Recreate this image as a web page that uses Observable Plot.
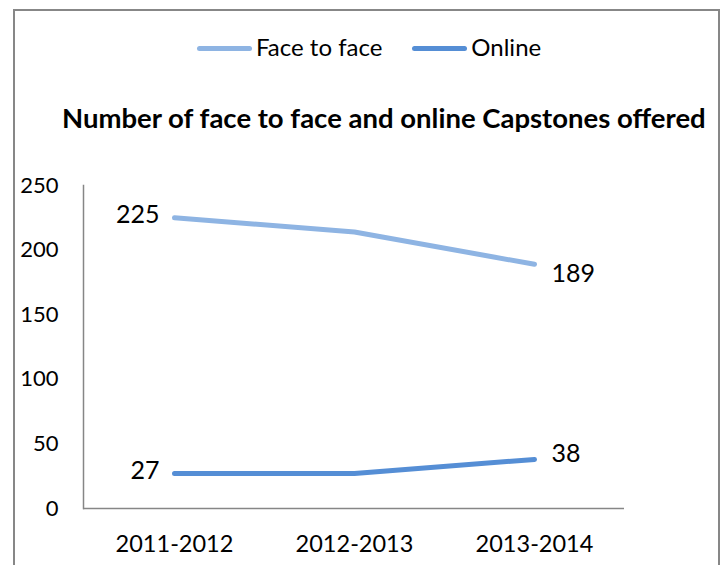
<!DOCTYPE html>
<html><head><meta charset="utf-8">
<script src="https://cdn.jsdelivr.net/npm/d3@7"></script>
<script src="https://cdn.jsdelivr.net/npm/@observablehq/plot@0.6"></script>
<style>
body{margin:0;background:#fff;font-family:Lato, sans-serif;color:#000;}
#wrap{position:relative;width:722px;height:565px;overflow:hidden;background:#fff;}
#border{position:absolute;left:13px;top:9px;width:703px;height:620px;border:2px solid #878787;}
#legend{position:absolute;top:32px;left:197px;display:flex;align-items:center;font-size:24px;white-space:nowrap;}
.sw{display:inline-block;width:55px;height:5px;border-radius:3px;margin-right:4px;position:relative;top:2px;}
.item{display:flex;align-items:center;margin-right:30px;}
#title{position:absolute;top:101px;left:62px;font-weight:bold;font-size:27.5px;white-space:nowrap;}
#chart{position:absolute;top:170px;left:0;}
</style></head>
<body>
<div id="wrap">
<div id="border"></div>
<div id="legend"></div>
<div id="title">Number of face to face and online Capstones offered</div>
<div id="chart"></div>
</div>
<script>
const years = ["2011-2012", "2012-2013", "2013-2014"];
const faceToFace = [225, 214, 189];
const online = [27, 27, 38];
const yTicks = [0, 50, 100, 150, 200, 250];
const seriesNames = ["Face to face", "Online"];
const seriesColors = ["#8EB4E3", "#558ED5"];

const rows = [];
years.forEach((y, i) => rows.push({year: y, value: faceToFace[i], series: seriesNames[0], idx: i}));
years.forEach((y, i) => rows.push({year: y, value: online[i], series: seriesNames[1], idx: i}));
const last = years.length - 1;

const legend = document.getElementById("legend");
seriesNames.forEach((n, i) => {
  const it = document.createElement("div");
  it.className = "item";
  const sw = document.createElement("span");
  sw.className = "sw";
  sw.style.background = seriesColors[i];
  it.appendChild(sw);
  it.appendChild(document.createTextNode(n));
  legend.appendChild(it);
});

const chart = Plot.plot({
  width: 722,
  height: 395,
  marginTop: 15,
  marginBottom: 57,
  marginLeft: 83,
  marginRight: 98,
  style: {fontFamily: "Lato, sans-serif", color: "#000", background: "transparent", overflow: "visible"},
  x: {type: "point", domain: years, padding: 0.5, label: null},
  y: {domain: [0, 250], label: null},
  color: {domain: seriesNames, range: seriesColors},
  marks: [
    Plot.frame({anchor: "left", stroke: "#868686", strokeWidth: 1.5}),
    Plot.ruleY([0], {stroke: "#868686", strokeWidth: 1.5}),
    Plot.axisY(yTicks, {tickSize: 0, tickPadding: 25, fontSize: 22, label: null}),
    Plot.axisX(years, {tickSize: 0, tickPadding: 27, fontSize: 23.5, label: null}),
    Plot.line(rows, {x: "year", y: "value", z: "series", stroke: "series", strokeWidth: 5, strokeLinecap: "round", strokeLinejoin: "round"}),
    Plot.text(rows.filter(d => d.idx === 0), {x: "year", y: "value", text: d => String(d.value), textAnchor: "end", dx: -15, dy: -3, fontSize: 25}),
    Plot.text(rows.filter(d => d.idx === last && d.series === seriesNames[0]), {x: "year", y: "value", text: d => String(d.value), textAnchor: "start", dx: 17, dy: 10, fontSize: 25}),
    Plot.text(rows.filter(d => d.idx === last && d.series === seriesNames[1]), {x: "year", y: "value", text: d => String(d.value), textAnchor: "start", dx: 17, dy: -5, fontSize: 25})
  ]
});
document.getElementById("chart").appendChild(chart);
</script>
</body></html>
